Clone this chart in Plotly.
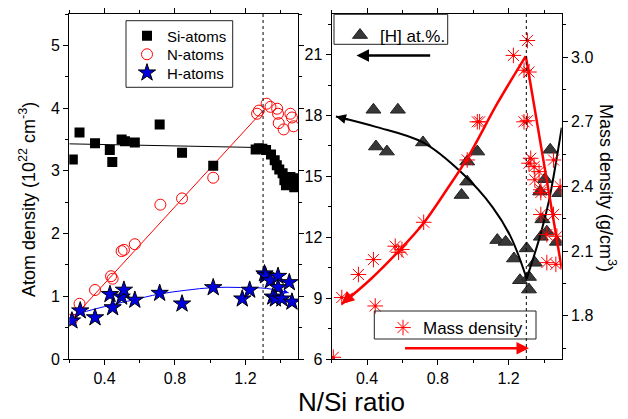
import plotly.graph_objects as go

FONT = "Liberation Sans, Arial, sans-serif"

# ---------------- Left panel: atom densities (10^22 cm^-3) vs N/Si ratio ----------------
si_x = [0.22, 0.258, 0.346, 0.43, 0.444, 0.497, 0.516, 0.572, 0.713, 0.84, 1.017,
        1.258, 1.276, 1.296, 1.317, 1.345, 1.366, 1.378, 1.392, 1.411, 1.421, 1.43, 1.455, 1.47, 1.477]
si_y = [3.18, 3.61, 3.44, 3.33, 3.14, 3.50, 3.47, 3.45, 3.74, 3.29, 3.08,
        3.34, 3.36, 3.35, 3.33, 3.26, 3.17, 3.09, 3.02, 2.96, 2.85, 2.77, 2.90, 2.88, 2.74]

n_x = [0.215, 0.258, 0.346, 0.437, 0.446, 0.497, 0.51, 0.572, 0.717, 0.84, 1.017,
       1.266, 1.276, 1.32, 1.342, 1.38, 1.385, 1.389, 1.417, 1.455, 1.464, 1.473]
n_y = [0.63, 0.88, 1.10, 1.32, 1.28, 1.72, 1.74, 1.83, 2.46, 2.56, 2.89,
       3.91, 3.96, 4.07, 4.02, 3.99, 3.91, 3.76, 3.66, 3.91, 3.85, 3.71]

h_x = [0.215, 0.262, 0.346, 0.431, 0.446, 0.497, 0.51, 0.572, 0.713, 0.84, 1.017,
       1.182, 1.224, 1.308, 1.314, 1.342, 1.385, 1.385, 1.355, 1.37, 1.407, 1.449, 1.464]
h_y = [0.61, 0.77, 0.66, 1.03, 0.82, 0.99, 1.10, 0.94, 1.05, 0.88, 1.14,
       0.96, 1.10, 1.36, 1.33, 1.25, 1.32, 1.14, 0.99, 0.96, 0.96, 1.22, 0.91]

# fitted guide lines
si_fit_x = [0.2, 1.3]
si_fit_y = [3.43, 3.37]
n_fit_x = [0.2, 1.3]
n_fit_y = [0.59, 3.96]
h_fit_x = [0.22, 0.35, 0.45, 0.56, 0.71, 0.86, 1.02, 1.17, 1.32, 1.445]
h_fit_y = [0.70, 0.80, 0.87, 0.94, 1.035, 1.095, 1.14, 1.14, 1.125, 1.056]

# ---------------- Right panel: [H] at.% (left axis) and mass density (right axis) ----------------
hat_x = [0.436, 0.574, 0.45, 0.512, 0.716, 1.023, 0.966, 0.966, 0.934,
         1.136, 1.183, 1.230, 1.302, 1.264, 1.315, 1.315, 1.348, 1.382, 1.416,
         1.473, 1.435, 1.405, 1.378, 1.486, 1.391]
hat_y = [18.28, 18.28, 16.47, 16.22, 16.67, 16.22, 15.73, 14.74, 14.08,
         11.86, 11.77, 10.95, 11.45, 9.88, 10.04, 9.42, 10.74, 12.02, 12.27,
         11.77, 16.31, 14.86, 14.25, 14.17, 12.88]

rho_x = [0.209, 0.257, 0.351, 0.436, 0.446, 0.559, 0.578, 0.597, 0.72, 0.966, 1.023, 1.036,
         1.227, 1.306, 1.287, 1.315, 1.287, 1.306, 1.325, 1.315, 1.344, 1.372, 1.348,
         1.382, 1.382, 1.454, 1.491, 1.382, 1.454, 1.416, 1.473, 1.416, 1.467]
rho_y = [1.608, 1.885, 1.992, 2.061, 1.846, 2.123, 2.095, 2.108, 2.234, 2.523, 2.70, 2.70,
         3.008, 3.077, 2.939, 2.931, 2.70, 2.705, 2.531, 2.508, 2.492, 2.469, 2.431,
         2.385, 2.372, 2.523, 2.40, 2.27, 2.27, 2.177, 2.169, 2.047, 2.039]

hat_fit1_x = [0.224, 0.45, 0.716, 0.938, 1.108, 1.212, 1.302]
hat_fit1_y = [17.95, 17.44, 16.67, 15.15, 13.5, 12.02, 9.96]
hat_fit2_x = [1.302, 1.382, 1.429, 1.467, 1.5]
hat_fit2_y = [9.96, 12.19, 13.84, 15.65, 17.4]

rho_fit1_x = [0.257, 0.42, 0.578, 0.72, 0.85, 0.966, 1.136, 1.297]
rho_fit1_y = [1.855, 1.97, 2.10, 2.231, 2.385, 2.53, 2.785, 3.005]
rho_fit2_x = [1.297, 1.5]
rho_fit2_y = [3.005, 2.02]

ratio_mark = 1.3  # vertical dotted reference line

fig = go.Figure()

# left panel
fig.add_trace(go.Scatter(x=si_fit_x, y=si_fit_y, mode="lines", line=dict(color="black", width=1),
                         showlegend=False, hoverinfo="skip", xaxis="x", yaxis="y"))
fig.add_trace(go.Scatter(x=n_fit_x, y=n_fit_y, mode="lines", line=dict(color="red", width=1),
                         showlegend=False, hoverinfo="skip", xaxis="x", yaxis="y"))
fig.add_trace(go.Scatter(x=h_fit_x, y=h_fit_y, mode="lines", line=dict(color="blue", width=1, shape="spline"),
                         showlegend=False, hoverinfo="skip", xaxis="x", yaxis="y"))
fig.add_trace(go.Scatter(x=si_x, y=si_y, mode="markers", name="Si-atoms",
                         marker=dict(symbol="square", size=10, color="black"),
                         xaxis="x", yaxis="y", legend="legend"))
fig.add_trace(go.Scatter(x=n_x, y=n_y, mode="markers", name="N-atoms",
                         marker=dict(symbol="circle-open", size=11, color="red", line=dict(width=1, color="red")),
                         xaxis="x", yaxis="y", legend="legend4"))
fig.add_trace(go.Scatter(x=h_x, y=h_y, mode="markers", name="H-atoms",
                         marker=dict(symbol="star", size=13, color="#0000DD", line=dict(width=1, color="black")),
                         xaxis="x", yaxis="y", legend="legend5"))

# right panel
fig.add_trace(go.Scatter(x=hat_x, y=hat_y, mode="markers", name="[H] at.%.",
                         marker=dict(symbol="triangle-up", size=13, color="#383838", line=dict(width=1, color="#222222")),
                         xaxis="x2", yaxis="y2", legend="legend2"))
fig.add_trace(go.Scatter(x=hat_fit1_x, y=hat_fit1_y, mode="lines", line=dict(color="black", width=2, shape="spline"),
                         showlegend=False, hoverinfo="skip", xaxis="x2", yaxis="y2"))
fig.add_trace(go.Scatter(x=hat_fit2_x, y=hat_fit2_y, mode="lines", line=dict(color="black", width=2, shape="spline"),
                         showlegend=False, hoverinfo="skip", xaxis="x2", yaxis="y2"))
fig.add_trace(go.Scatter(x=rho_x, y=rho_y, mode="markers", name="Mass density",
                         marker=dict(symbol="asterisk-open", size=13, color="red", line=dict(width=1, color="red")),
                         xaxis="x2", yaxis="y3", legend="legend3"))
fig.add_trace(go.Scatter(x=rho_x, y=rho_y, mode="markers", showlegend=False, hoverinfo="skip",
                         marker=dict(symbol="circle", size=3, color="red"),
                         xaxis="x2", yaxis="y3"))
fig.add_trace(go.Scatter(x=rho_fit1_x, y=rho_fit1_y, mode="lines", line=dict(color="red", width=2.5, shape="spline"),
                         showlegend=False, hoverinfo="skip", xaxis="x2", yaxis="y3"))
fig.add_trace(go.Scatter(x=rho_fit2_x, y=rho_fit2_y, mode="lines", line=dict(color="red", width=2.5),
                         showlegend=False, hoverinfo="skip", xaxis="x2", yaxis="y3"))

W, H = 628, 419
def px_x(p):
    return p / W
def px_y(p):
    return 1 - p / H

axis_common = dict(showline=True, linecolor="black", linewidth=1.3, ticks="outside", ticklen=5,
                   tickwidth=1, tickcolor="black", showgrid=False, zeroline=False, automargin=False,
                   tickfont=dict(family=FONT, size=16, color="black"))

def legend_box(left, top, size):
    return dict(x=px_x(left), y=px_y(top), xanchor="left", yanchor="top", bgcolor="rgba(0,0,0,0)",
                borderwidth=0, font=dict(family=FONT, size=size, color="black"))

fig.update_layout(
    width=W, height=H,
    margin=dict(l=0, r=0, t=0, b=0, pad=0, autoexpand=False),
    paper_bgcolor="white", plot_bgcolor="white",
    font=dict(family=FONT, color="black"),
    xaxis=dict(domain=[px_x(69.3), px_x(298.3)], range=[0.2, 1.5], tick0=0, dtick=0.4, anchor="y",
               mirror="ticks", minor=dict(dtick=0.2, tick0=0, ticks="outside", ticklen=3, tickcolor="black"),
               **axis_common),
    yaxis=dict(domain=[px_y(359), px_y(14)], range=[0, 5.5], tick0=0, dtick=1, anchor="x",
               mirror="ticks", minor=dict(dtick=0.5, tick0=0, ticks="outside", ticklen=3, tickcolor="black"),
               **axis_common),
    xaxis2=dict(domain=[px_x(331.7), px_x(561.7)], range=[0.2, 1.5], tick0=0, dtick=0.4, anchor="y2",
                mirror="ticks", minor=dict(dtick=0.2, tick0=0, ticks="outside", ticklen=3, tickcolor="black"),
                **axis_common),
    yaxis2=dict(domain=[px_y(359), px_y(14)], range=[6, 23], tick0=0, dtick=3, anchor="x2",
                minor=dict(dtick=1.5, tick0=0, ticks="outside", ticklen=3, tickcolor="black"),
                **axis_common),
    yaxis3=dict(range=[1.6, 3.2], tick0=0, dtick=0.3, tickformat=".1f", overlaying="y2", side="right",
                anchor="x2",
                minor=dict(dtick=0.15, tick0=0, ticks="outside", ticklen=3, tickcolor="black"),
                **axis_common),
    legend=legend_box(127, 19.5, 15),
    legend4=legend_box(127, 38, 15),
    legend5=legend_box(127, 56.5, 15),
    legend2=legend_box(340, 17.5, 17),
    legend3=legend_box(383, 310, 17),
    showlegend=True,
)

shapes = [
    dict(type="line", xref="x", yref="y domain", x0=ratio_mark, x1=ratio_mark, y0=0, y1=1,
         line=dict(color="black", width=1, dash="dot")),
    dict(type="line", xref="x2", yref="y2 domain", x0=ratio_mark, x1=ratio_mark, y0=0, y1=1,
         line=dict(color="black", width=1, dash="dot")),
    dict(type="rect", xref="paper", yref="paper", x0=px_x(126), x1=px_x(232.7), y0=px_y(87.3), y1=px_y(20.7),
         line=dict(color="#222222", width=1)),
    dict(type="rect", xref="paper", yref="paper", x0=px_x(334), x1=px_x(447.7), y0=px_y(44.3), y1=px_y(14.3),
         line=dict(color="#222222", width=1)),
    dict(type="rect", xref="paper", yref="paper", x0=px_x(374.3), x1=px_x(536), y0=px_y(339), y1=px_y(311),
         line=dict(color="#222222", width=1)),
]
fig.update_layout(shapes=shapes)

annotations = [
    dict(text="N/Si ratio", xref="paper", yref="paper", x=px_x(351.7), y=0, showarrow=False,
         xanchor="center", yanchor="bottom", font=dict(family=FONT, size=26, color="black")),
    dict(text="Atom density (10<sup>22</sup> cm<sup>-3</sup>)", xref="paper", yref="paper",
         x=px_x(28), y=px_y(200), textangle=-90, showarrow=False, xanchor="center", yanchor="middle",
         font=dict(family=FONT, size=18, color="black")),
    dict(text="Mass density (g/cm<sup>3</sup>)", xref="paper", yref="paper",
         x=px_x(608), y=px_y(188), textangle=90, showarrow=False, xanchor="center", yanchor="middle",
         font=dict(family=FONT, size=18, color="black")),
    # legend direction arrows
    dict(text="", xref="x2", yref="y2", axref="x2", ayref="y2", x=0.34, y=20.95, ax=0.765, ay=20.95,
         showarrow=True, arrowhead=2, arrowsize=1, arrowwidth=2.5, arrowcolor="black"),
    dict(text="", xref="x2", yref="y2", axref="x2", ayref="y2", x=1.315, y=6.53, ax=0.606, ay=6.53,
         showarrow=True, arrowhead=2, arrowsize=1, arrowwidth=2.5, arrowcolor="red"),
    # arrow heads at the ends of the fitted curves
    dict(text="", xref="x2", yref="y2", axref="x2", ayref="y2", x=0.224, y=17.95, ax=0.3, ay=17.78,
         showarrow=True, arrowhead=2, arrowsize=1, arrowwidth=2, arrowcolor="black"),
    dict(text="", xref="x2", yref="y3", axref="x2", ayref="y3", x=0.257, y=1.855, ax=0.33, ay=1.91,
         showarrow=True, arrowhead=2, arrowsize=1, arrowwidth=2.5, arrowcolor="red"),
    dict(text="", xref="x", yref="y", axref="x", ayref="y", x=1.445, y=1.056, ax=1.40, ay=1.085,
         showarrow=True, arrowhead=2, arrowsize=1, arrowwidth=1, arrowcolor="blue"),
]
fig.update_layout(annotations=annotations)

fig.write_html("out.html")
